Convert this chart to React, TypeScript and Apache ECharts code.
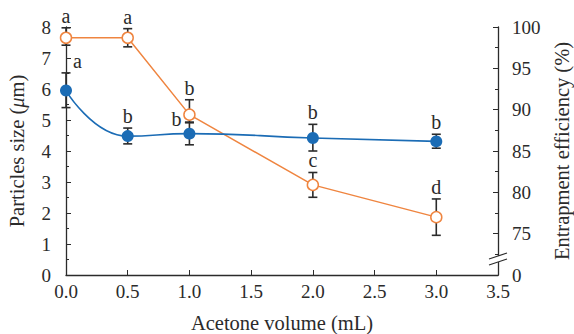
import React, { useEffect, useRef } from "react";
import * as echarts from "echarts";

const volumes = [0.0, 0.5, 1.0, 2.0, 3.0];
const particleSize = [5.95, 4.48, 4.56, 4.42, 4.31];
const particleSizeLow = [5.4, 4.23, 4.2, 4.0, 4.09];
const particleSizeHigh = [6.52, 4.74, 4.91, 4.86, 4.54];
const particleLetters = ["a", "b", "b", "b", "b"];

const entrapment = [98.7, 98.7, 89.4, 80.9, 77.0];
const entrapmentLow = [97.8, 97.6, 88.5, 79.4, 74.8];
const entrapmentHigh = [99.9, 99.8, 91.2, 82.4, 79.2];
const entrapmentLetters = ["a", "a", "b", "c", "d"];

// label placement (style, not data)
const particleLabelSide = ["right", "top", "left", "top", "top"];
const entrapmentLabelSide = ["top", "top", "top", "top", "top"];

const FONT = "'Liberation Serif', 'DejaVu Serif', serif";
const BLUE = "#1b6cb5";
const ORANGE = "#ef8540";
const INK = "#2b2b2b";

function errorSeries(low: number[], high: number[], letters: string[], sides: string[], yAxisIndex: number) {
  return {
    type: "custom",
    yAxisIndex,
    z: 1,
    data: volumes.map((v, i) => [v, low[i], high[i]]),
    renderItem: (params: any, api: any) => {
      const x = api.value(0);
      const lo = api.value(1);
      const hi = api.value(2);
      const pHi = api.coord([x, hi]);
      const pLo = api.coord([x, lo]);
      const cap = 4.5;
      const ls = { stroke: INK, lineWidth: 1.6 };
      const side = sides[params.dataIndex];
      let tx = pHi[0];
      let ty = pHi[1] - 2;
      let align = "center";
      let vAlign = "bottom";
      if (side === "right") {
        tx = pHi[0] + 7;
        ty = pHi[1] - 12;
        align = "left";
        vAlign = "middle";
      } else if (side === "left") {
        tx = pHi[0] - 8;
        ty = pHi[1] - 4;
        align = "right";
        vAlign = "middle";
      }
      return {
        type: "group",
        children: [
          { type: "line", shape: { x1: pHi[0], y1: pHi[1], x2: pLo[0], y2: pLo[1] }, style: ls },
          { type: "line", shape: { x1: pHi[0] - cap, y1: pHi[1], x2: pHi[0] + cap, y2: pHi[1] }, style: ls },
          { type: "line", shape: { x1: pLo[0] - cap, y1: pLo[1], x2: pLo[0] + cap, y2: pLo[1] }, style: ls },
          {
            type: "text",
            x: tx,
            y: ty,
            style: {
              text: letters[params.dataIndex],
              fill: INK,
              fontSize: 20,
              fontFamily: FONT,
              align,
              verticalAlign: vAlign,
            },
          },
        ],
      };
    },
  };
}

export default function App() {
  const ref = useRef<HTMLDivElement>(null);
  useEffect(() => {
    if (!ref.current) return;
    const chart = echarts.init(ref.current, undefined, { renderer: "svg" });
    const axisLabel = { color: INK, fontSize: 19, fontFamily: FONT };
    chart.setOption({
      animation: false,
      backgroundColor: "#fff",
      grid: { left: 66, right: 76, top: 27, bottom: 59, containLabel: false, outerBoundsMode: "none" },
      xAxis: {
        type: "value",
        min: 0,
        max: 3.5,
        interval: 0.5,
        axisLine: { show: true, lineStyle: { color: INK, width: 1.3 } },
        axisTick: { show: true, inside: true, length: 5, lineStyle: { color: INK } },
        splitLine: { show: false },
        axisLabel: { ...axisLabel, margin: 7, formatter: (v: number) => v.toFixed(1) },
        name: "Acetone volume (mL)",
        nameLocation: "middle",
        nameGap: 37,
        nameTextStyle: { color: INK, fontSize: 20.5, fontFamily: FONT },
      },
      yAxis: [
        {
          type: "value",
          min: 0,
          max: 8,
          interval: 1,
          position: "left",
          axisLine: { show: true, lineStyle: { color: INK, width: 1.3 } },
          axisTick: { show: true, inside: true, length: 5, lineStyle: { color: INK } },
          minorTick: { show: true, splitNumber: 2, length: 3, lineStyle: { color: INK } },
          splitLine: { show: false },
          axisLabel: { ...axisLabel, margin: 15 },
          name: "Particles size ({i|μ}m)",
          nameLocation: "middle",
          nameGap: 39,
          nameTextStyle: {
            color: INK,
            fontSize: 20.5,
            fontFamily: FONT,
            rich: { i: { fontStyle: "italic", fontSize: 20.5, fontFamily: FONT, color: INK } },
          },
        },
        {
          type: "value",
          min: 70,
          max: 100,
          interval: 5,
          position: "right",
          axisLine: { show: true, lineStyle: { color: INK, width: 1.3 } },
          axisTick: { show: true, inside: true, length: 5, lineStyle: { color: INK } },
          minorTick: { show: true, splitNumber: 2, length: 3, lineStyle: { color: INK } },
          splitLine: { show: false },
          axisLabel: { ...axisLabel, margin: 14, formatter: (v: number) => (v === 70 ? "0" : String(v)) },
          name: "Entrapment efficiency (%)",
          nameLocation: "middle",
          nameGap: 53,
          nameRotate: 90,
          nameTextStyle: { color: INK, fontSize: 20.5, fontFamily: FONT },
        },
      ],
      series: [
        errorSeries(particleSizeLow, particleSizeHigh, particleLetters, particleLabelSide, 0),
        errorSeries(entrapmentLow, entrapmentHigh, entrapmentLetters, entrapmentLabelSide, 1),
        {
          type: "line",
          yAxisIndex: 1,
          z: 3,
          data: volumes.map((v, i) => [v, entrapment[i]]),
          symbol: "circle",
          symbolSize: 11,
          lineStyle: { color: ORANGE, width: 1.5 },
          itemStyle: { color: "#fff", borderColor: ORANGE, borderWidth: 1.5 },
        },
        {
          type: "line",
          yAxisIndex: 0,
          z: 4,
          smooth: 0.5,
          data: volumes.map((v, i) => [v, particleSize[i]]),
          symbol: "circle",
          symbolSize: 12,
          lineStyle: { color: BLUE, width: 1.6 },
          itemStyle: { color: BLUE, borderColor: BLUE, borderWidth: 0 },
        },
      ],
      graphic: [
        { type: "rect", shape: { x: 494, y: 256, width: 8, height: 6 }, style: { fill: "#fff" }, z: 100 },
        { type: "line", shape: { x1: 489, y1: 259, x2: 507, y2: 253 }, style: { stroke: INK, lineWidth: 1.2 }, z: 101 },
        { type: "line", shape: { x1: 489, y1: 265, x2: 507, y2: 259 }, style: { stroke: INK, lineWidth: 1.2 }, z: 101 },
      ],
    });
    return () => chart.dispose();
  }, []);
  return <div ref={ref} style={{ width: 574, height: 334, position: "absolute", left: 0, top: 0 }} />;
}
